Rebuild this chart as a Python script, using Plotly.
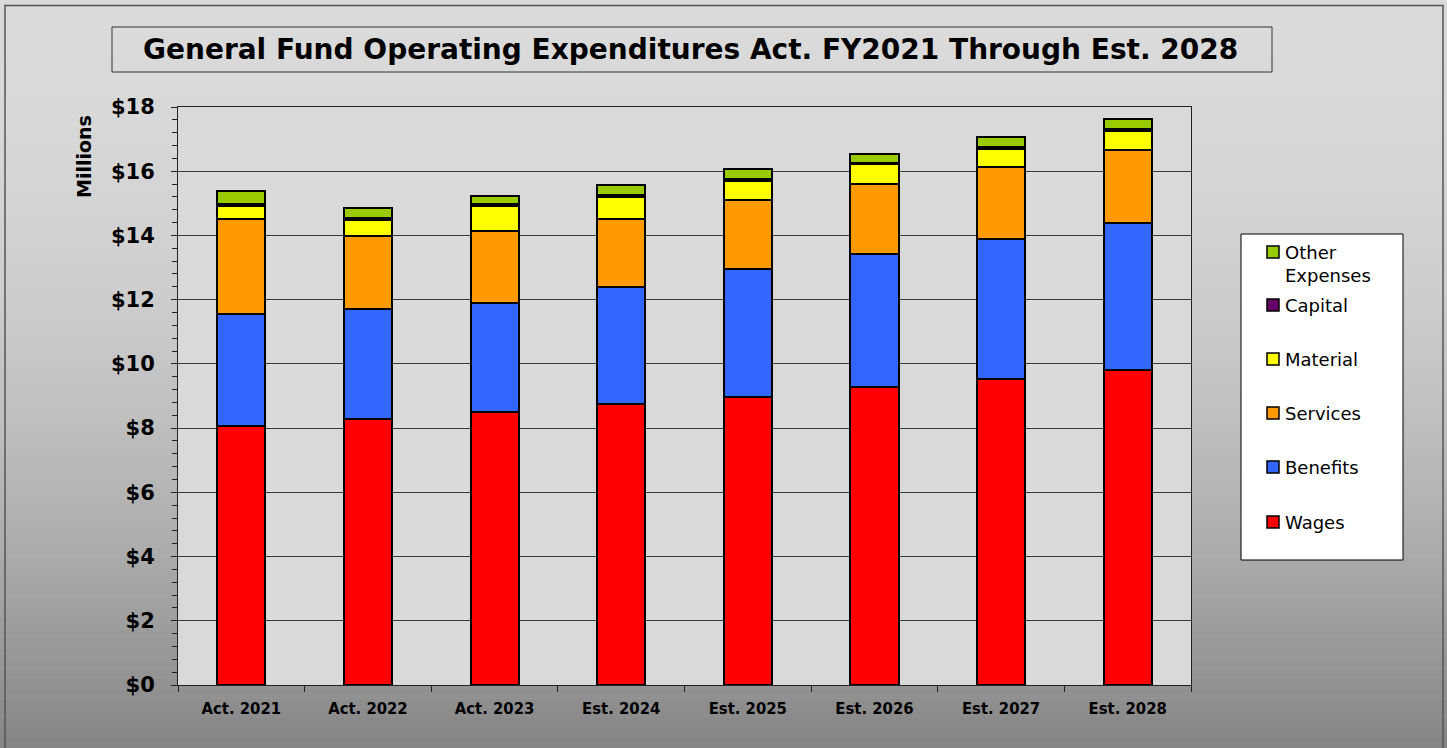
import plotly.graph_objects as go

# ---------------- data ----------------
categories = ["Act. 2021", "Act. 2022", "Act. 2023", "Est. 2024",
              "Est. 2025", "Est. 2026", "Est. 2027", "Est. 2028"]
wages    = [8.08, 8.27, 8.50, 8.74, 8.98, 9.27, 9.52, 9.81]
benefits = [3.48, 3.43, 3.39, 3.65, 3.97, 4.14, 4.38, 4.57]
services = [2.95, 2.29, 2.24, 2.12, 2.14, 2.20, 2.22, 2.27]
material = [0.41, 0.50, 0.79, 0.70, 0.61, 0.60, 0.57, 0.61]
capital  = [0.05, 0.05, 0.05, 0.05, 0.06, 0.05, 0.05, 0.05]
other    = [0.42, 0.31, 0.27, 0.32, 0.31, 0.27, 0.32, 0.31]

series_names  = ["Wages", "Benefits", "Services", "Material", "Capital", "Other Expenses"]
series_values = [wages, benefits, services, material, capital, other]
series_colors = ["#FF0000", "#3366FF", "#FF9900", "#FFFF00", "#660066", "#99CC00"]

y_tick_vals = [0, 2, 4, 6, 8, 10, 12, 14, 16, 18]
y_tick_text = ["$0", "$2", "$4", "$6", "$8", "$10", "$12", "$14", "$16", "$18"]

title_text = "General Fund Operating Expenditures Act. FY2021 Through Est. 2028"
y_title = "Millions"

# ---------------- layout geometry ----------------
W, H = 1447, 748
L, R, T, B = 178, 1191, 107, 685   # plot area in pixels


def px(x):
    return (x - L) / (R - L)


def py(y):
    return (B - y) / (B - T)


fig = go.Figure()
for name, vals, col in zip(series_names, series_values, series_colors):
    fig.add_trace(go.Bar(
        x=categories, y=vals, name=name,
        marker=dict(color=col, line=dict(color="black", width=2)),
        showlegend=False,
    ))

shapes = []
# vertical gradient background
n = 75
for i in range(n):
    y0 = i * H / n
    y1 = (i + 1) * H / n + 0.6
    t = (y0 + y1) / 2 / H
    v = int(round(218 - 86 * t * t))
    shapes.append(dict(type="rect", xref="paper", yref="paper", layer="below",
                       x0=px(0), x1=px(W), y0=py(y1), y1=py(y0),
                       fillcolor=f"rgb({v},{v},{v})", line=dict(width=0)))
# plot area background
shapes.append(dict(type="rect", xref="paper", yref="paper", layer="below",
                   x0=0, x1=1, y0=0, y1=1, fillcolor="#D9D9D9", line=dict(width=0)))
# outer frame
shapes.append(dict(type="rect", xref="paper", yref="paper",
                   x0=px(5), x1=px(1443), y0=py(760), y1=py(5.5),
                   line=dict(color="#555555", width=1.5)))
# title box
shapes.append(dict(type="rect", xref="paper", yref="paper",
                   x0=px(112), x1=px(1272), y0=py(72), y1=py(27),
                   line=dict(color="#333333", width=1)))
# legend box
shapes.append(dict(type="rect", xref="paper", yref="paper",
                   x0=px(1241), x1=px(1403), y0=py(560), y1=py(234),
                   fillcolor="white", line=dict(color="black", width=1)))

annotations = [
    dict(text="<b>" + title_text + "</b>", xref="paper", yref="paper",
         x=px(690), y=py(50), xanchor="center", yanchor="middle", showarrow=False,
         font=dict(family="DejaVu Sans", size=28, color="black")),
    dict(text="<b>" + y_title + "</b>", xref="paper", yref="paper",
         x=px(84), y=py(157), xanchor="center", yanchor="middle", showarrow=False,
         textangle=-90, font=dict(family="DejaVu Sans", size=19, color="black")),
]

# manual legend (reverse order, top = Other Expenses)
leg_centers = [522, 467, 413, 359, 305, 252]
for name, col, cy in zip(series_names, series_colors, leg_centers):
    shapes.append(dict(type="rect", xref="paper", yref="paper",
                       x0=px(1267), x1=px(1279), y0=py(cy + 6), y1=py(cy - 6),
                       fillcolor=col, line=dict(color="black", width=1.5)))
    label = name.replace(" ", "<br>")
    annotations.append(dict(text=label, xref="paper", yref="paper",
                            x=px(1283), y=py(cy - 12), xanchor="left", yanchor="top",
                            align="left", showarrow=False,
                            font=dict(family="DejaVu Sans", size=18, color="black")))

fig.update_layout(
    barmode="stack",
    bargap=0.62,
    width=W, height=H,
    margin=dict(l=L, r=W - R, t=T, b=H - B, pad=0),
    paper_bgcolor="#D9D9D9",
    plot_bgcolor="#D9D9D9",
    shapes=shapes,
    annotations=annotations,
    showlegend=False,
)

fig.update_xaxes(
    type="category", showgrid=False,
    showline=True, linecolor="#222222", linewidth=1, mirror=True,
    ticks="outside", ticklen=6, tickcolor="#222222", tickson="boundaries",
    tickfont=dict(family="DejaVu Sans Condensed", size=16.5, color="black", weight="bold"),
    ticklabelstandoff=8,
)
fig.update_yaxes(
    range=[0, 18], tickvals=y_tick_vals, ticktext=y_tick_text,
    showgrid=True, gridcolor="#3A3A3A", gridwidth=1,
    showline=True, linecolor="#222222", linewidth=1, mirror=True,
    ticks="outside", ticklen=6, tickcolor="#222222",
    minor=dict(dtick=0.4, ticks="outside", ticklen=5, tickcolor="#222222", showgrid=False),
    tickfont=dict(family="DejaVu Sans", size=21, color="black", weight="bold"),
    ticklabelstandoff=12,
    zeroline=False,
)

fig.write_html("out.html", config={"displayModeBar": False},
               post_script="document.body.style.margin='0';")
